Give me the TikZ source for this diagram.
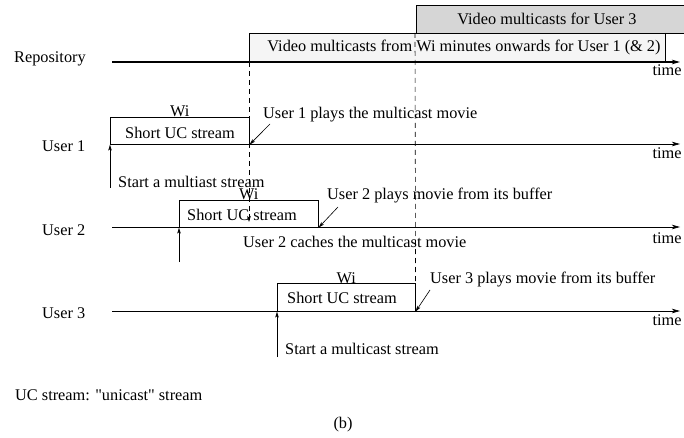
\documentclass[tikz,border=0pt]{standalone}
\usepackage{fontspec}
\setmainfont{Liberation Serif}
\usetikzlibrary{arrows.meta}

\begin{document}
\begin{tikzpicture}[x=1pt,y=-1pt,
  lbl/.style={inner sep=0pt, font=\fontsize{16.3}{19}\selectfont},
  axisline/.style={line width=0.7pt, -{Stealth[length=8pt,width=4.5pt,inset=2pt]}},
  repoaxis/.style={line width=1.2pt, -{Stealth[length=8pt,width=4.5pt,inset=2pt]}},
  ptr/.style={line width=0.6pt, -{Stealth[length=6pt,width=3.5pt,inset=1.5pt]}},
  guide/.style={line width=0.6pt, dash pattern=on 5pt off 4pt},
  slot/.style={draw, line width=0.6pt, inner sep=0pt, anchor=north west}
]
\useasboundingbox (0,0) rectangle (684,438);

% ---------- Repository time line ----------
\fill[black!16] (416,5) rectangle (690,33);
\fill[black!4] (249,33) rectangle (665,62);
\draw[line width=0.6pt] (690,5) -- (416,5) -- (416,33);
\draw[line width=0.6pt] (690,33) -- (249,33) -- (249,62);
\draw[line width=0.6pt] (665,33) -- (665,62);
\node[lbl, anchor=base] (mc3) at (547,25) {Video multicasts for User 3};
\node[lbl, anchor=base] (mc12) at (464,52) {Video multicasts from Wi minutes onwards for User 1 (\& 2)};

\node[lbl, anchor=base west] (repo) at (14,63) {Repository};
\coordinate (r0) at (112,62);
\coordinate (r1) at (680,62);
\draw[repoaxis] (r0) -- (r1);
\node[lbl, anchor=base] (t0) at (667,76) {time};

% ---------- User 1 ----------
\node[lbl, anchor=base west] (u1) at (42,152) {User 1};
\coordinate (a1s) at (112,144);
\coordinate (a1e) at (680,144);
\draw[axisline] (a1s) -- (a1e);
\node[lbl, anchor=base] (t1) at (667,159) {time};
\node[slot, minimum width=139pt, minimum height=27pt] (b1) at (110,117) {};
\node[lbl, anchor=base] (w1) at (b1.north) {Wi};
\node[lbl, anchor=base] at (180,138.5) {Short UC stream};
\coordinate (s1) at (110,188);
\draw[ptr] (s1) -- (b1.south west);
\node[lbl, anchor=base west] (st1) at (118,187.5) {Start a multiast stream};
\node[lbl, anchor=base west] (p1) at (263,118.5) {User 1 plays the multicast movie};
\coordinate (p1a) at (270,124);
\draw[ptr] (p1a) -- (b1.south east);

% ---------- User 2 ----------
\node[lbl, anchor=base west] (u2) at (42,235) {User 2};
\coordinate (a2s) at (112,227);
\coordinate (a2e) at (680,227);
\draw[axisline] (a2s) -- (a2e);
\node[lbl, anchor=base] (t2) at (667,243) {time};
\node[slot, minimum width=139pt, minimum height=27pt] (b2) at (179,200) {};
\node[lbl, anchor=base] (w2) at (b2.north) {Wi};
\node[lbl, anchor=base west] at (187,220) {Short UC stream};
\coordinate (s2) at (179,262);
\draw[ptr] (s2) -- (b2.south west);
\node[lbl, anchor=base west] (p2) at (327,200) {User 2 plays movie from its buffer};
\coordinate (p2a) at (338,207);
\draw[ptr] (p2a) -- (b2.south east);
\node[lbl, anchor=base west] (c2) at (243,247) {User 2 caches the multicast movie};

% ---------- User 3 ----------
\node[lbl, anchor=base west] (u3) at (42,318) {User 3};
\coordinate (a3s) at (112,311);
\coordinate (a3e) at (680,311);
\draw[axisline] (a3s) -- (a3e);
\node[lbl, anchor=base] (t3) at (667,325) {time};
\node[slot, minimum width=138pt, minimum height=28pt] (b3) at (277,283) {};
\node[lbl, anchor=base] (w3) at (b3.north) {Wi};
\node[lbl, anchor=base] at (342,303) {Short UC stream};
\coordinate (s3) at (277,357);
\draw[ptr] (s3) -- (b3.south west);
\node[lbl, anchor=base west] (st3) at (285,354) {Start a multicast stream};
\node[lbl, anchor=base west] (p3) at (430,283) {User 3 plays movie from its buffer};
\coordinate (p3a) at (430,290);
\draw[ptr] (p3a) -- (b3.south east);

% ---------- dashed guides ----------
\coordinate (g1) at (249,62);
\coordinate (g1e) at (249,222);
\draw[guide] (g1) -- (g1e);
\draw[ptr] (249,214) -- (g1e);
\coordinate (g2) at (415,33);
\draw[guide] (g2) -- (b3.south east);

% ---------- notes ----------
\node[lbl, anchor=base west] (note) at (15,400) {UC stream: \textquotedbl unicast\textquotedbl{} stream};
\node[lbl, anchor=base] (cap) at (343,428) {(b)};
\end{tikzpicture}
\end{document}
